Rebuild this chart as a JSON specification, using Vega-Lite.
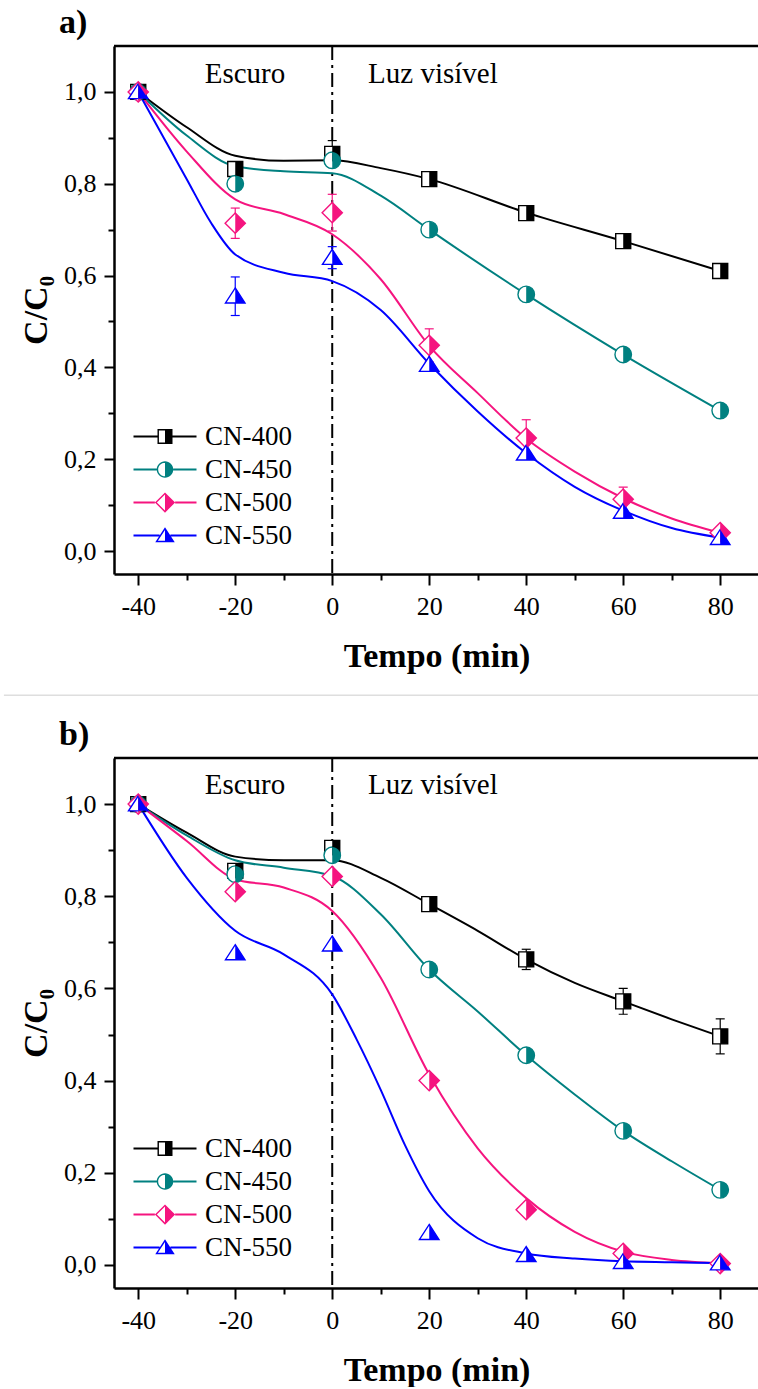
{
  "$schema": "https://vega.github.io/schema/vega-lite/v6.json",
  "background": "white",
  "padding": {"left": 3, "top": 5, "right": 0, "bottom": 0},
  "spacing": 184,
  "bounds": "flush",
  "config": {
    "font": "Liberation Serif",
    "view": {"stroke": null},
    "axis": {
      "domainColor": "black", "domainWidth": 2.5,
      "tickColor": "black", "tickWidth": 2,
      "labelFont": "Liberation Serif", "labelFontSize": 26, "labelColor": "black",
      "titleFont": "Liberation Serif", "titleFontSize": 34, "titleFontWeight": "bold", "titleColor": "black",
      "grid": false, "labelOverlap": false, "labelFlush": false
    },
    "legend": {"labelFont": "Liberation Serif"}
  },
  "datasets": {
    "markers": [
      {"panel": "a", "series": "CN-400", "t": -40, "v": 1.0},
      {"panel": "a", "series": "CN-400", "t": -20, "v": 0.832},
      {"panel": "a", "series": "CN-400", "t": 0, "v": 0.865},
      {"panel": "a", "series": "CN-400", "t": 20, "v": 0.81},
      {"panel": "a", "series": "CN-400", "t": 40, "v": 0.736},
      {"panel": "a", "series": "CN-400", "t": 60, "v": 0.675},
      {"panel": "a", "series": "CN-400", "t": 80, "v": 0.61},
      {"panel": "a", "series": "CN-450", "t": -40, "v": 1.0},
      {"panel": "a", "series": "CN-450", "t": -20, "v": 0.80},
      {"panel": "a", "series": "CN-450", "t": 0, "v": 0.851},
      {"panel": "a", "series": "CN-450", "t": 20, "v": 0.70},
      {"panel": "a", "series": "CN-450", "t": 40, "v": 0.559},
      {"panel": "a", "series": "CN-450", "t": 60, "v": 0.428},
      {"panel": "a", "series": "CN-450", "t": 80, "v": 0.306},
      {"panel": "a", "series": "CN-500", "t": -40, "v": 1.0},
      {"panel": "a", "series": "CN-500", "t": -20, "v": 0.714},
      {"panel": "a", "series": "CN-500", "t": 0, "v": 0.737},
      {"panel": "a", "series": "CN-500", "t": 20, "v": 0.448},
      {"panel": "a", "series": "CN-500", "t": 40, "v": 0.246},
      {"panel": "a", "series": "CN-500", "t": 60, "v": 0.113},
      {"panel": "a", "series": "CN-500", "t": 80, "v": 0.04},
      {"panel": "a", "series": "CN-550", "t": -40, "v": 1.0},
      {"panel": "a", "series": "CN-550", "t": -20, "v": 0.555},
      {"panel": "a", "series": "CN-550", "t": 0, "v": 0.639},
      {"panel": "a", "series": "CN-550", "t": 20, "v": 0.406},
      {"panel": "a", "series": "CN-550", "t": 40, "v": 0.213},
      {"panel": "a", "series": "CN-550", "t": 60, "v": 0.086},
      {"panel": "a", "series": "CN-550", "t": 80, "v": 0.029},
      {"panel": "b", "series": "CN-400", "t": -40, "v": 1.0},
      {"panel": "b", "series": "CN-400", "t": -20, "v": 0.855},
      {"panel": "b", "series": "CN-400", "t": 0, "v": 0.905},
      {"panel": "b", "series": "CN-400", "t": 20, "v": 0.783},
      {"panel": "b", "series": "CN-400", "t": 40, "v": 0.663},
      {"panel": "b", "series": "CN-400", "t": 60, "v": 0.572},
      {"panel": "b", "series": "CN-400", "t": 80, "v": 0.496},
      {"panel": "b", "series": "CN-450", "t": -40, "v": 1.0},
      {"panel": "b", "series": "CN-450", "t": -20, "v": 0.848},
      {"panel": "b", "series": "CN-450", "t": 0, "v": 0.889},
      {"panel": "b", "series": "CN-450", "t": 20, "v": 0.641},
      {"panel": "b", "series": "CN-450", "t": 40, "v": 0.455},
      {"panel": "b", "series": "CN-450", "t": 60, "v": 0.291},
      {"panel": "b", "series": "CN-450", "t": 80, "v": 0.163},
      {"panel": "b", "series": "CN-500", "t": -40, "v": 1.0},
      {"panel": "b", "series": "CN-500", "t": -20, "v": 0.81},
      {"panel": "b", "series": "CN-500", "t": 0, "v": 0.843},
      {"panel": "b", "series": "CN-500", "t": 20, "v": 0.40},
      {"panel": "b", "series": "CN-500", "t": 40, "v": 0.12},
      {"panel": "b", "series": "CN-500", "t": 60, "v": 0.025},
      {"panel": "b", "series": "CN-500", "t": 80, "v": 0.003},
      {"panel": "b", "series": "CN-550", "t": -40, "v": 1.0},
      {"panel": "b", "series": "CN-550", "t": -20, "v": 0.677},
      {"panel": "b", "series": "CN-550", "t": 0, "v": 0.696},
      {"panel": "b", "series": "CN-550", "t": 20, "v": 0.07},
      {"panel": "b", "series": "CN-550", "t": 40, "v": 0.022},
      {"panel": "b", "series": "CN-550", "t": 60, "v": 0.007},
      {"panel": "b", "series": "CN-550", "t": 80, "v": 0.004}
    ],
    "curves": [
      {"panel": "a", "series": "CN-400", "t": -40, "v": 1.0},
      {"panel": "a", "series": "CN-400", "t": -30, "v": 0.923},
      {"panel": "a", "series": "CN-400", "t": -20, "v": 0.861},
      {"panel": "a", "series": "CN-400", "t": -10, "v": 0.85},
      {"panel": "a", "series": "CN-400", "t": 0, "v": 0.851},
      {"panel": "a", "series": "CN-400", "t": 10, "v": 0.834},
      {"panel": "a", "series": "CN-400", "t": 20, "v": 0.81},
      {"panel": "a", "series": "CN-400", "t": 40, "v": 0.737},
      {"panel": "a", "series": "CN-400", "t": 60, "v": 0.675},
      {"panel": "a", "series": "CN-400", "t": 80, "v": 0.61},
      {"panel": "a", "series": "CN-450", "t": -40, "v": 1.0},
      {"panel": "a", "series": "CN-450", "t": -30, "v": 0.905},
      {"panel": "a", "series": "CN-450", "t": -20, "v": 0.838},
      {"panel": "a", "series": "CN-450", "t": -10, "v": 0.827},
      {"panel": "a", "series": "CN-450", "t": 0, "v": 0.823},
      {"panel": "a", "series": "CN-450", "t": 10, "v": 0.774},
      {"panel": "a", "series": "CN-450", "t": 20, "v": 0.70},
      {"panel": "a", "series": "CN-450", "t": 40, "v": 0.559},
      {"panel": "a", "series": "CN-450", "t": 60, "v": 0.428},
      {"panel": "a", "series": "CN-450", "t": 80, "v": 0.306},
      {"panel": "a", "series": "CN-500", "t": -40, "v": 1.0},
      {"panel": "a", "series": "CN-500", "t": -30, "v": 0.87},
      {"panel": "a", "series": "CN-500", "t": -20, "v": 0.766},
      {"panel": "a", "series": "CN-500", "t": -10, "v": 0.734},
      {"panel": "a", "series": "CN-500", "t": 0, "v": 0.69},
      {"panel": "a", "series": "CN-500", "t": 10, "v": 0.592},
      {"panel": "a", "series": "CN-500", "t": 20, "v": 0.447},
      {"panel": "a", "series": "CN-500", "t": 30, "v": 0.344},
      {"panel": "a", "series": "CN-500", "t": 40, "v": 0.245},
      {"panel": "a", "series": "CN-500", "t": 50, "v": 0.173},
      {"panel": "a", "series": "CN-500", "t": 60, "v": 0.115},
      {"panel": "a", "series": "CN-500", "t": 70, "v": 0.071},
      {"panel": "a", "series": "CN-500", "t": 80, "v": 0.04},
      {"panel": "a", "series": "CN-550", "t": -40, "v": 1.0},
      {"panel": "a", "series": "CN-550", "t": -30, "v": 0.81},
      {"panel": "a", "series": "CN-550", "t": -25, "v": 0.715},
      {"panel": "a", "series": "CN-550", "t": -20, "v": 0.646},
      {"panel": "a", "series": "CN-550", "t": -10, "v": 0.606},
      {"panel": "a", "series": "CN-550", "t": 0, "v": 0.588},
      {"panel": "a", "series": "CN-550", "t": 10, "v": 0.525},
      {"panel": "a", "series": "CN-550", "t": 20, "v": 0.408},
      {"panel": "a", "series": "CN-550", "t": 30, "v": 0.304},
      {"panel": "a", "series": "CN-550", "t": 40, "v": 0.213},
      {"panel": "a", "series": "CN-550", "t": 50, "v": 0.14},
      {"panel": "a", "series": "CN-550", "t": 60, "v": 0.088},
      {"panel": "a", "series": "CN-550", "t": 70, "v": 0.05},
      {"panel": "a", "series": "CN-550", "t": 80, "v": 0.029},
      {"panel": "b", "series": "CN-400", "t": -40, "v": 1.0},
      {"panel": "b", "series": "CN-400", "t": -30, "v": 0.938},
      {"panel": "b", "series": "CN-400", "t": -20, "v": 0.886},
      {"panel": "b", "series": "CN-400", "t": -10, "v": 0.878},
      {"panel": "b", "series": "CN-400", "t": 0, "v": 0.878},
      {"panel": "b", "series": "CN-400", "t": 10, "v": 0.84},
      {"panel": "b", "series": "CN-400", "t": 20, "v": 0.783},
      {"panel": "b", "series": "CN-400", "t": 30, "v": 0.725},
      {"panel": "b", "series": "CN-400", "t": 40, "v": 0.663},
      {"panel": "b", "series": "CN-400", "t": 50, "v": 0.612},
      {"panel": "b", "series": "CN-400", "t": 60, "v": 0.572},
      {"panel": "b", "series": "CN-400", "t": 70, "v": 0.533},
      {"panel": "b", "series": "CN-400", "t": 80, "v": 0.496},
      {"panel": "b", "series": "CN-450", "t": -40, "v": 1.0},
      {"panel": "b", "series": "CN-450", "t": -30, "v": 0.932},
      {"panel": "b", "series": "CN-450", "t": -20, "v": 0.878},
      {"panel": "b", "series": "CN-450", "t": -10, "v": 0.862},
      {"panel": "b", "series": "CN-450", "t": 0, "v": 0.844},
      {"panel": "b", "series": "CN-450", "t": 10, "v": 0.761},
      {"panel": "b", "series": "CN-450", "t": 20, "v": 0.641},
      {"panel": "b", "series": "CN-450", "t": 30, "v": 0.55},
      {"panel": "b", "series": "CN-450", "t": 40, "v": 0.455},
      {"panel": "b", "series": "CN-450", "t": 50, "v": 0.37},
      {"panel": "b", "series": "CN-450", "t": 60, "v": 0.291},
      {"panel": "b", "series": "CN-450", "t": 70, "v": 0.225},
      {"panel": "b", "series": "CN-450", "t": 80, "v": 0.163},
      {"panel": "b", "series": "CN-500", "t": -40, "v": 1.0},
      {"panel": "b", "series": "CN-500", "t": -30, "v": 0.92},
      {"panel": "b", "series": "CN-500", "t": -20, "v": 0.837},
      {"panel": "b", "series": "CN-500", "t": -10, "v": 0.819},
      {"panel": "b", "series": "CN-500", "t": 0, "v": 0.768},
      {"panel": "b", "series": "CN-500", "t": 10, "v": 0.623},
      {"panel": "b", "series": "CN-500", "t": 20, "v": 0.413},
      {"panel": "b", "series": "CN-500", "t": 30, "v": 0.253},
      {"panel": "b", "series": "CN-500", "t": 40, "v": 0.145},
      {"panel": "b", "series": "CN-500", "t": 50, "v": 0.072},
      {"panel": "b", "series": "CN-500", "t": 60, "v": 0.029},
      {"panel": "b", "series": "CN-500", "t": 70, "v": 0.011},
      {"panel": "b", "series": "CN-500", "t": 80, "v": 0.004},
      {"panel": "b", "series": "CN-550", "t": -40, "v": 1.0},
      {"panel": "b", "series": "CN-550", "t": -30, "v": 0.84},
      {"panel": "b", "series": "CN-550", "t": -20, "v": 0.725},
      {"panel": "b", "series": "CN-550", "t": -10, "v": 0.674},
      {"panel": "b", "series": "CN-550", "t": 0, "v": 0.587},
      {"panel": "b", "series": "CN-550", "t": 5, "v": 0.49},
      {"panel": "b", "series": "CN-550", "t": 10, "v": 0.38},
      {"panel": "b", "series": "CN-550", "t": 15, "v": 0.26},
      {"panel": "b", "series": "CN-550", "t": 20, "v": 0.16},
      {"panel": "b", "series": "CN-550", "t": 30, "v": 0.058},
      {"panel": "b", "series": "CN-550", "t": 40, "v": 0.025},
      {"panel": "b", "series": "CN-550", "t": 50, "v": 0.014},
      {"panel": "b", "series": "CN-550", "t": 60, "v": 0.008},
      {"panel": "b", "series": "CN-550", "t": 70, "v": 0.006},
      {"panel": "b", "series": "CN-550", "t": 80, "v": 0.004}
    ],
    "errors": [
      {"panel": "a", "series": "CN-400", "t": 0, "lo": 0.836, "hi": 0.894},
      {"panel": "a", "series": "CN-500", "t": -20, "lo": 0.681, "hi": 0.747},
      {"panel": "a", "series": "CN-500", "t": 0, "lo": 0.697, "hi": 0.777},
      {"panel": "a", "series": "CN-500", "t": 20, "lo": 0.412, "hi": 0.484},
      {"panel": "a", "series": "CN-500", "t": 40, "lo": 0.206, "hi": 0.286},
      {"panel": "a", "series": "CN-500", "t": 60, "lo": 0.087, "hi": 0.139},
      {"panel": "a", "series": "CN-550", "t": -20, "lo": 0.513, "hi": 0.597},
      {"panel": "a", "series": "CN-550", "t": 0, "lo": 0.615, "hi": 0.663},
      {"panel": "b", "series": "CN-400", "t": 40, "lo": 0.641, "hi": 0.685},
      {"panel": "b", "series": "CN-400", "t": 60, "lo": 0.544, "hi": 0.6},
      {"panel": "b", "series": "CN-400", "t": 80, "lo": 0.458, "hi": 0.534}
    ]
  },
  "resolve": {
    "scale": {"x": "independent", "y": "independent", "color": "independent", "stroke": "independent", "fill": "independent", "shape": "independent"},
    "legend": {"color": "independent", "stroke": "independent", "fill": "independent", "shape": "independent"}
  },
  "vconcat": [
    {
      "width": 645,
      "height": 528,
      "title": {"text": "a)", "anchor": "start", "frame": "group", "dx": -55, "offset": -22, "baseline": "alphabetic", "fontSize": 34, "fontWeight": "bold", "font": "Liberation Serif", "color": "black"},
      "resolve": {"scale": {"shape": "independent", "fill": "independent"}, "legend": {"shape": "independent", "fill": "independent"}},
      "layer": [
        {
          "data": {"values": [{}]},
          "mark": {"type": "rule", "color": "#dedede", "strokeWidth": 1.5},
          "encoding": {"x": {"datum": -67.7}, "x2": {"datum": 88}, "y": {"datum": -0.314}}
        },
        {
          "data": {"values": [{}]},
          "mark": {"type": "rule", "color": "black", "strokeWidth": 2.5},
          "encoding": {"y": {"datum": 1.1}}
        },
        {
          "data": {"values": [{}]},
          "mark": {"type": "rule", "color": "black", "strokeWidth": 2, "strokeDash": [14, 5, 3, 5]},
          "encoding": {"x": {"datum": 0}}
        },
        {
          "data": {"values": [{}]},
          "mark": {"type": "text", "fontSize": 29, "align": "center", "baseline": "alphabetic", "color": "black"},
          "encoding": {"x": {"datum": -18}, "y": {"datum": 1.02}, "text": {"value": "Escuro"}}
        },
        {
          "data": {"values": [{}]},
          "mark": {"type": "text", "fontSize": 29, "align": "left", "baseline": "alphabetic", "color": "black"},
          "encoding": {"x": {"datum": 7.4}, "y": {"datum": 1.02}, "text": {"value": "Luz visível"}}
        },
        {
          "data": {"name": "curves"},
          "transform": [{"filter": "datum.panel == 'a'"}],
          "mark": {"type": "line", "strokeWidth": 2, "interpolate": "monotone"},
          "encoding": {
            "x": {
              "field": "t", "type": "quantitative",
              "scale": {"domain": [-45, 88], "nice": false, "zero": false},
              "axis": {
                "values": [-40, -30, -20, -10, 0, 10, 20, 30, 40, 50, 60, 70, 80],
                "title": "Tempo (min)",
                "labelExpr": "datum.value % 20 == 0 ? '' + datum.value : ''",
                "tickSize": {"condition": {"test": "datum.value % 20 == 0", "value": 11}, "value": 6},
                "labelPadding": 8, "titlePadding": 20
              }
            },
            "y": {
              "field": "v", "type": "quantitative",
              "scale": {"domain": [-0.05, 1.1], "nice": false, "zero": false},
              "axis": {
                "values": [0, 0.1, 0.2, 0.3, 0.4, 0.5, 0.6, 0.7, 0.8, 0.9, 1.0],
                "title": "C/C₀",
                "labelExpr": "round(datum.value * 10) % 2 == 0 ? replace(format(datum.value, '.1f'), '.', ',') : ''",
                "tickSize": {"condition": {"test": "round(datum.value * 10) % 2 == 0", "value": 10}, "value": 6},
                "labelPadding": 8, "titlePadding": 10
              }
            },
            "color": {"field": "series", "type": "nominal", "scale": {"domain": ["CN-400", "CN-450", "CN-500", "CN-550"], "range": ["#000000", "#008080", "#f5147f", "#0000ff"]}, "legend": null}
          }
        },
        {
          "data": {"name": "errors"},
          "transform": [{"filter": "datum.panel == 'a'"}],
          "mark": {"type": "rule", "strokeWidth": 1.2},
          "encoding": {
            "x": {"field": "t", "type": "quantitative"},
            "y": {"field": "lo", "type": "quantitative"},
            "y2": {"field": "hi"},
            "color": {"field": "series", "type": "nominal", "scale": {"domain": ["CN-400", "CN-450", "CN-500", "CN-550"], "range": ["#000000", "#008080", "#f5147f", "#0000ff"]}, "legend": null}
          }
        },
        {
          "data": {"name": "errors"},
          "transform": [{"filter": "datum.panel == 'a'"}, {"fold": ["lo", "hi"], "as": ["end", "val"]}],
          "mark": {"type": "tick", "orient": "horizontal", "size": 9, "thickness": 1.2, "opacity": 1},
          "encoding": {
            "x": {"field": "t", "type": "quantitative"},
            "y": {"field": "val", "type": "quantitative"},
            "color": {"field": "series", "type": "nominal", "scale": {"domain": ["CN-400", "CN-450", "CN-500", "CN-550"], "range": ["#000000", "#008080", "#f5147f", "#0000ff"]}, "legend": null}
          }
        },
        {
          "data": {"name": "markers"},
          "transform": [{"filter": "datum.panel == 'a'"}],
          "mark": {"type": "point", "filled": true, "fill": "white", "strokeWidth": 1.4, "size": 225, "opacity": 1},
          "encoding": {
            "x": {"field": "t", "type": "quantitative"},
            "y": {"field": "v", "type": "quantitative"},
            "stroke": {"field": "series", "type": "nominal", "scale": {"domain": ["CN-400", "CN-450", "CN-500", "CN-550"], "range": ["#000000", "#008080", "#f5147f", "#0000ff"]}, "legend": null},
            "shape": {"field": "series", "type": "nominal", "scale": {"domain": ["CN-400", "CN-450", "CN-500", "CN-550"], "range": ["M-1,-1H1V1H-1Z", "M0,-1.1A1.1,1.1,0,1,1,0,1.1A1.1,1.1,0,1,1,0,-1.1Z", "M0,-1.35L1.35,0L0,1.35L-1.35,0Z", "M0,-1.1L1.3,0.9L-1.3,0.9Z"]}, "legend": null}
          }
        },
        {
          "data": {"name": "markers"},
          "transform": [{"filter": "datum.panel == 'a'"}],
          "mark": {"type": "point", "filled": true, "strokeWidth": 0, "size": 225, "opacity": 1},
          "encoding": {
            "x": {"field": "t", "type": "quantitative"},
            "y": {"field": "v", "type": "quantitative"},
            "color": {"field": "series", "type": "nominal", "scale": {"domain": ["CN-400", "CN-450", "CN-500", "CN-550"], "range": ["#000000", "#008080", "#f5147f", "#0000ff"]}, "legend": null},
            "shape": {"field": "series", "type": "nominal", "scale": {"domain": ["CN-400", "CN-450", "CN-500", "CN-550"], "range": ["M0,-1H1V1H0Z", "M0,-1.1A1.1,1.1,0,0,1,0,1.1Z", "M0,-1.35L1.35,0L0,1.35Z", "M0,-1.1L1.3,0.9L0,0.9Z"]}, "legend": null}
          }
        },
        {
          "data": {"name": "markers"},
          "transform": [{"filter": "false"}],
          "mark": {"type": "point", "filled": true, "strokeWidth": 0, "size": 225, "opacity": 1},
          "encoding": {
            "x": {"field": "t", "type": "quantitative"},
            "y": {"field": "v", "type": "quantitative"},
            "fill": {
              "field": "series", "type": "nominal",
              "scale": {"domain": ["CN-400", "CN-450", "CN-500", "CN-550"], "range": ["#000000", "#008080", "#f5147f", "#0000ff"]},
              "legend": {"title": null, "orient": "none", "legendX": 37.5, "legendY": 377, "padding": 0, "labelFont": "Liberation Serif", "labelFontSize": 27, "labelColor": "black", "labelOffset": 26.5, "symbolSize": 225, "symbolStrokeWidth": 0, "rowPadding": 5, "labelLimit": 0}
            },
            "shape": {
              "field": "series", "type": "nominal",
              "scale": {"domain": ["CN-400", "CN-450", "CN-500", "CN-550"], "range": [
                "M-4.2,-0.13H-1V0.13H-4.2Z M1,-0.13H4.2V0.13H1Z M-1,-1H1V1H-1Z M-0.81,-0.81V0.81H0.81V-0.81Z M0,-1H1V1H0Z",
                "M-4.2,-0.13H-1.1V0.13H-4.2Z M1.1,-0.13H4.2V0.13H1.1Z M0,-1.1A1.1,1.1,0,1,1,0,1.1A1.1,1.1,0,1,1,0,-1.1Z M0,-0.91A0.91,0.91,0,1,0,0,0.91A0.91,0.91,0,1,0,0,-0.91Z M0,-1.1A1.1,1.1,0,0,1,0,1.1Z",
                "M-4.2,-0.13H-1.35V0.13H-4.2Z M1.35,-0.13H4.2V0.13H1.35Z M0,-1.35L1.35,0L0,1.35L-1.35,0Z M0,-1.08L-1.08,0L0,1.08L1.08,0Z M0,-1.35L1.35,0L0,1.35Z",
                "M-4.2,-0.13H-0.72V0.13H-4.2Z M0.72,-0.13H4.2V0.13H0.72Z M0,-1.1L1.3,0.9L-1.3,0.9Z M0,-0.75L-0.95,0.71L0.95,0.71Z M0,-1.1L1.3,0.9L0,0.9Z"
              ]},
              "legend": {"title": null, "orient": "none", "legendX": 37.5, "legendY": 377, "padding": 0, "labelFont": "Liberation Serif", "labelFontSize": 27, "labelColor": "black", "labelOffset": 26.5, "symbolSize": 225, "symbolStrokeWidth": 0, "rowPadding": 5, "labelLimit": 0}
            }
          }
        }
      ]
    },
    {
      "width": 645,
      "height": 530,
      "title": {"text": "b)", "anchor": "start", "frame": "group", "dx": -55, "offset": -22, "baseline": "alphabetic", "fontSize": 34, "fontWeight": "bold", "font": "Liberation Serif", "color": "black"},
      "resolve": {"scale": {"shape": "independent", "fill": "independent"}, "legend": {"shape": "independent", "fill": "independent"}},
      "layer": [
        {
          "data": {"values": [{}]},
          "mark": {"type": "rule", "color": "black", "strokeWidth": 2.5},
          "encoding": {"y": {"datum": 1.1}}
        },
        {
          "data": {"values": [{}]},
          "mark": {"type": "rule", "color": "black", "strokeWidth": 2, "strokeDash": [14, 5, 3, 5]},
          "encoding": {"x": {"datum": 0}}
        },
        {
          "data": {"values": [{}]},
          "mark": {"type": "text", "fontSize": 29, "align": "center", "baseline": "alphabetic", "color": "black"},
          "encoding": {"x": {"datum": -18}, "y": {"datum": 1.022}, "text": {"value": "Escuro"}}
        },
        {
          "data": {"values": [{}]},
          "mark": {"type": "text", "fontSize": 29, "align": "left", "baseline": "alphabetic", "color": "black"},
          "encoding": {"x": {"datum": 7.4}, "y": {"datum": 1.022}, "text": {"value": "Luz visível"}}
        },
        {
          "data": {"name": "curves"},
          "transform": [{"filter": "datum.panel == 'b'"}],
          "mark": {"type": "line", "strokeWidth": 2, "interpolate": "monotone"},
          "encoding": {
            "x": {
              "field": "t", "type": "quantitative",
              "scale": {"domain": [-45, 88], "nice": false, "zero": false},
              "axis": {
                "values": [-40, -30, -20, -10, 0, 10, 20, 30, 40, 50, 60, 70, 80],
                "title": "Tempo (min)",
                "labelExpr": "datum.value % 20 == 0 ? '' + datum.value : ''",
                "tickSize": {"condition": {"test": "datum.value % 20 == 0", "value": 11}, "value": 6},
                "labelPadding": 8, "titlePadding": 20
              }
            },
            "y": {
              "field": "v", "type": "quantitative",
              "scale": {"domain": [-0.05, 1.1], "nice": false, "zero": false},
              "axis": {
                "values": [0, 0.1, 0.2, 0.3, 0.4, 0.5, 0.6, 0.7, 0.8, 0.9, 1.0],
                "title": "C/C₀",
                "labelExpr": "round(datum.value * 10) % 2 == 0 ? replace(format(datum.value, '.1f'), '.', ',') : ''",
                "tickSize": {"condition": {"test": "round(datum.value * 10) % 2 == 0", "value": 10}, "value": 6},
                "labelPadding": 8, "titlePadding": 10
              }
            },
            "color": {"field": "series", "type": "nominal", "scale": {"domain": ["CN-400", "CN-450", "CN-500", "CN-550"], "range": ["#000000", "#008080", "#f5147f", "#0000ff"]}, "legend": null}
          }
        },
        {
          "data": {"name": "errors"},
          "transform": [{"filter": "datum.panel == 'b'"}],
          "mark": {"type": "rule", "strokeWidth": 1.2},
          "encoding": {
            "x": {"field": "t", "type": "quantitative"},
            "y": {"field": "lo", "type": "quantitative"},
            "y2": {"field": "hi"},
            "color": {"field": "series", "type": "nominal", "scale": {"domain": ["CN-400", "CN-450", "CN-500", "CN-550"], "range": ["#000000", "#008080", "#f5147f", "#0000ff"]}, "legend": null}
          }
        },
        {
          "data": {"name": "errors"},
          "transform": [{"filter": "datum.panel == 'b'"}, {"fold": ["lo", "hi"], "as": ["end", "val"]}],
          "mark": {"type": "tick", "orient": "horizontal", "size": 9, "thickness": 1.2, "opacity": 1},
          "encoding": {
            "x": {"field": "t", "type": "quantitative"},
            "y": {"field": "val", "type": "quantitative"},
            "color": {"field": "series", "type": "nominal", "scale": {"domain": ["CN-400", "CN-450", "CN-500", "CN-550"], "range": ["#000000", "#008080", "#f5147f", "#0000ff"]}, "legend": null}
          }
        },
        {
          "data": {"name": "markers"},
          "transform": [{"filter": "datum.panel == 'b'"}],
          "mark": {"type": "point", "filled": true, "fill": "white", "strokeWidth": 1.4, "size": 225, "opacity": 1},
          "encoding": {
            "x": {"field": "t", "type": "quantitative"},
            "y": {"field": "v", "type": "quantitative"},
            "stroke": {"field": "series", "type": "nominal", "scale": {"domain": ["CN-400", "CN-450", "CN-500", "CN-550"], "range": ["#000000", "#008080", "#f5147f", "#0000ff"]}, "legend": null},
            "shape": {"field": "series", "type": "nominal", "scale": {"domain": ["CN-400", "CN-450", "CN-500", "CN-550"], "range": ["M-1,-1H1V1H-1Z", "M0,-1.1A1.1,1.1,0,1,1,0,1.1A1.1,1.1,0,1,1,0,-1.1Z", "M0,-1.35L1.35,0L0,1.35L-1.35,0Z", "M0,-1.1L1.3,0.9L-1.3,0.9Z"]}, "legend": null}
          }
        },
        {
          "data": {"name": "markers"},
          "transform": [{"filter": "datum.panel == 'b'"}],
          "mark": {"type": "point", "filled": true, "strokeWidth": 0, "size": 225, "opacity": 1},
          "encoding": {
            "x": {"field": "t", "type": "quantitative"},
            "y": {"field": "v", "type": "quantitative"},
            "color": {"field": "series", "type": "nominal", "scale": {"domain": ["CN-400", "CN-450", "CN-500", "CN-550"], "range": ["#000000", "#008080", "#f5147f", "#0000ff"]}, "legend": null},
            "shape": {"field": "series", "type": "nominal", "scale": {"domain": ["CN-400", "CN-450", "CN-500", "CN-550"], "range": ["M0,-1H1V1H0Z", "M0,-1.1A1.1,1.1,0,0,1,0,1.1Z", "M0,-1.35L1.35,0L0,1.35Z", "M0,-1.1L1.3,0.9L0,0.9Z"]}, "legend": null}
          }
        },
        {
          "data": {"name": "markers"},
          "transform": [{"filter": "false"}],
          "mark": {"type": "point", "filled": true, "strokeWidth": 0, "size": 225, "opacity": 1},
          "encoding": {
            "x": {"field": "t", "type": "quantitative"},
            "y": {"field": "v", "type": "quantitative"},
            "fill": {
              "field": "series", "type": "nominal",
              "scale": {"domain": ["CN-400", "CN-450", "CN-500", "CN-550"], "range": ["#000000", "#008080", "#f5147f", "#0000ff"]},
              "legend": {"title": null, "orient": "none", "legendX": 37.5, "legendY": 377, "padding": 0, "labelFont": "Liberation Serif", "labelFontSize": 27, "labelColor": "black", "labelOffset": 26.5, "symbolSize": 225, "symbolStrokeWidth": 0, "rowPadding": 5, "labelLimit": 0}
            },
            "shape": {
              "field": "series", "type": "nominal",
              "scale": {"domain": ["CN-400", "CN-450", "CN-500", "CN-550"], "range": [
                "M-4.2,-0.13H-1V0.13H-4.2Z M1,-0.13H4.2V0.13H1Z M-1,-1H1V1H-1Z M-0.81,-0.81V0.81H0.81V-0.81Z M0,-1H1V1H0Z",
                "M-4.2,-0.13H-1.1V0.13H-4.2Z M1.1,-0.13H4.2V0.13H1.1Z M0,-1.1A1.1,1.1,0,1,1,0,1.1A1.1,1.1,0,1,1,0,-1.1Z M0,-0.91A0.91,0.91,0,1,0,0,0.91A0.91,0.91,0,1,0,0,-0.91Z M0,-1.1A1.1,1.1,0,0,1,0,1.1Z",
                "M-4.2,-0.13H-1.35V0.13H-4.2Z M1.35,-0.13H4.2V0.13H1.35Z M0,-1.35L1.35,0L0,1.35L-1.35,0Z M0,-1.08L-1.08,0L0,1.08L1.08,0Z M0,-1.35L1.35,0L0,1.35Z",
                "M-4.2,-0.13H-0.72V0.13H-4.2Z M0.72,-0.13H4.2V0.13H0.72Z M0,-1.1L1.3,0.9L-1.3,0.9Z M0,-0.75L-0.95,0.71L0.95,0.71Z M0,-1.1L1.3,0.9L0,0.9Z"
              ]},
              "legend": {"title": null, "orient": "none", "legendX": 37.5, "legendY": 377, "padding": 0, "labelFont": "Liberation Serif", "labelFontSize": 27, "labelColor": "black", "labelOffset": 26.5, "symbolSize": 225, "symbolStrokeWidth": 0, "rowPadding": 5, "labelLimit": 0}
            }
          }
        }
      ]
    }
  ]
}
